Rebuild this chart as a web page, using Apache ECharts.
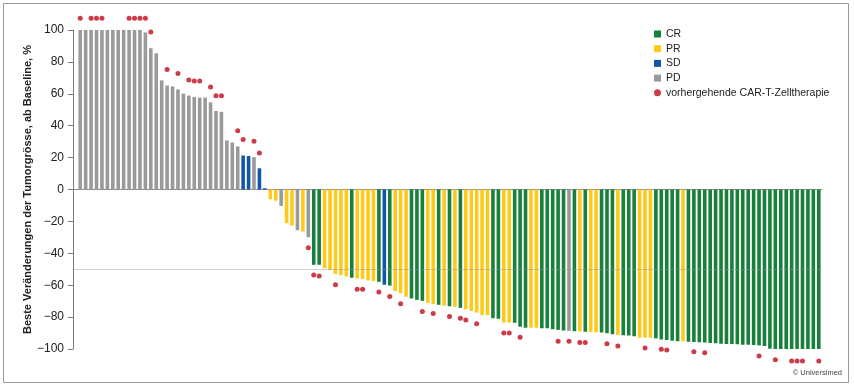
<!DOCTYPE html>
<html><head><meta charset="utf-8">
<script src="https://cdn.jsdelivr.net/npm/echarts@6/dist/echarts.min.js"></script>
<style>html,body{margin:0;padding:0;background:#fff}#c{width:854px;height:387px}</style>
</head><body><div id="c"></div>
<script>
// Best change in tumour size from baseline (%), one bar per patient (137)
const values = [
 100,100,100,100,100,100,100,100,100,100,100,100,
 98.5,88.6,85.4,68.4,65.2,64.6,62.7,60.1,58.9,58,57.6,57.6,54.6,49.2,48.7,30.8,29.5,27,
 21.3,21,20.3,13.3,0.8,
 -6.1,-7,-10.3,-21.1,-22.6,-25.5,-26.4,-29.9,
 -47.2,-47.2,-49.3,-50.5,-53,-53.7,-54.5,-55.3,-55.7,-56.2,-57,-57.4,-57.9,-59.7,-60.2,
 -63.7,-65,-67.3,-68.3,-69.2,-69.8,-71.1,-71.9,-72.3,-72.8,-73.2,-73.6,-74.2,-75.1,-76.1,
 -77.2,-78.8,-78.8,-80.7,-81,-83.4,-83.4,-83.6,-86,-86.6,-86.6,-86.6,-87,-87,-87.6,
 -88,-88.4,-88.6,-88.8,-89,-89.2,-89.3,-89.5,-89.7,-90.1,-90.8,-91.2,-91.4,-91.6,-92,
 -92.9,-92.9,-92.9,-93.3,-94,-94.3,-94.8,-95.2,-95.2,-95.4,-95.6,-95.8,-96,-96.2,-96.4,
 -96.7,-96.9,-96.9,-97.1,-97.3,-97.3,-97.5,-97.7,-98.1,-99.8,
 -100,-100,-100,-100,-100,-100,-100,-100,-100
];
// Best response per patient
const response = [
 'PD','PD','PD','PD','PD','PD','PD','PD','PD','PD','PD','PD','PD','PD','PD',
 'PD','PD','PD','PD','PD','PD','PD','PD','PD','PD','PD','PD','PD','PD','PD',
 'SD','SD','PD','SD','SD',
 'PR','PR','PD','PR','PR','PD','PR','PD',
 'CR','CR','PR','PR','PR','PR','PR','CR','PR','PR','PR','PR','CR','SD','CR',
 'PR','PR','PR','CR','CR','CR','PR','PR','CR','PR','CR','PR','CR',
 'PR','PR','PR','PR','PR','CR','CR','PR','PR','CR','CR','CR','PR','PR',
 'CR','CR','CR','CR','CR','PD','CR','PR','CR','PR','PR','CR','CR','CR','PR',
 'CR','CR','CR','PR','PR','PR','CR','CR','CR','CR','CR','PR',
 'CR','CR','CR','CR','CR','CR','CR','CR','CR','CR','CR','CR','CR','CR','CR',
 'CR','CR','CR','CR','CR','CR','CR','CR','CR','CR'
];
// Patients with prior CAR-T cell therapy: bar index and marker position (%)
const carTIndex = [0,2,3,4,9,10,11,12,13,16,18,20,21,22,24,25,26,29,30,32,33,
 42,43,44,47,51,52,55,57,59,63,65,68,70,71,73,78,79,81,88,90,92,93,97,99,104,107,108,
 113,115,125,128,131,132,133,136];
const carTValue = [107.4,107.4,107.4,107.4,107.4,107.4,107.4,107.4,98.7,75.2,72.8,68.7,68,68,
 64.2,58.7,58.7,36.8,31.4,30.3,22.9,
 -36.5,-53.6,-54.3,-59.7,-62.5,-62.5,-64.2,-67.1,-71.7,-76.5,-77.8,-79.7,-80.7,-81.8,-84.1,
 -89.9,-89.9,-92.6,-95.2,-95.2,-96,-96,-96.7,-98.1,-99.4,-100.2,-100.6,-101.7,-102.3,
 -104.4,-106.7,-107.5,-107.5,-107.5,-107.5];
const responseKeys = ['CR','PR','SD','PD'];
const carTLabel = 'vorhergehende CAR-T-Zelltherapie';
const yMin = -100, yMax = 100, yStep = 20;
const xMin = -1.33;
const refLine = -50;
const yName = 'Beste Veränderungen der Tumorgrösse, ab Baseline, %';

const colors = {CR:'#17803b', PR:'#fdca1c', SD:'#1457a6', PD:'#9a9a9a'};
const FONT = '"Liberation Sans",Arial,sans-serif';
const AXIS_COLOR = '#7a7a7a';

const chart = echarts.init(document.getElementById('c'), null, {renderer:'canvas'});

const barSeries = responseKeys.map((key, si) => ({
  name: key, type: 'bar', barWidth: 3.6, barGap: '-100%',
  itemStyle: {color: colors[key]},
  data: values.map((v,i)=> response[i]===key ? [i, v] : [i, '-']),
  markLine: si===0 ? {
    silent: true, symbol: 'none', animation: false,
    label: {show:false},
    lineStyle: {color:'rgba(150,150,150,0.45)', type:'solid', width:1},
    data: [{yAxis: refLine}]
  } : undefined
}));

chart.setOption({
  backgroundColor: '#fff',
  animation: false,
  grid: {left: 73, right: 32.5, top: 30, bottom: 38, containLabel: false},
  legend: {
    orient: 'vertical', left: 654, top: 28, padding: 0,
    itemWidth: 7, itemHeight: 7, itemGap: 2.7,
    icon: 'rect',
    textStyle: {fontSize: 10.5, lineHeight: 12, fontFamily: FONT, color: '#222'},
    data: ['CR','PR','SD','PD',{name: carTLabel, icon: 'circle'}]
  },
  xAxis: {
    type: 'value', min: xMin, max: values.length - 0.5,
    axisLine: {show: true, onZero: true, lineStyle: {color: '#8a8a8a', width: 1}},
    axisTick: {show: false}, axisLabel: {show: false}, splitLine: {show: false}
  },
  yAxis: {
    type: 'value', position: 'left', min: yMin, max: yMax, interval: yStep,
    name: yName, nameLocation: 'middle', nameGap: 40, nameMoveOverlap: false,
    nameTextStyle: {fontSize: 11, fontWeight: 'bold', fontFamily: FONT, color: '#222'},
    axisLine: {show: true, onZero: false, lineStyle: {color: AXIS_COLOR, width: 1}},
    axisTick: {show: true, length: 5, lineStyle: {color: AXIS_COLOR, width: 1}},
    axisLabel: {fontSize: 12, fontFamily: FONT, color: '#222', margin: 9,
      formatter: v => String(v).replace('-', '\u2212')},
    splitLine: {show: false}
  },
  series: barSeries.concat([{
    name: carTLabel, type: 'scatter', symbol: 'circle', symbolSize: 5, clip: false,
    itemStyle: {color: '#c00a1a'},
    data: carTIndex.map((k,j)=>[k, carTValue[j]]),
    z: 5
  }]),
  graphic: [
    {type:'rect', shape:{x:3.5, y:3.5, width:845, height:379}, style:{fill:'none', stroke:'#9a9a9a', lineWidth:1}, silent:true},
    {type:'text', right: 12, top: 369, style:{text:'© Universimed', fontSize: 7.5, fontFamily: FONT, fill:'#444'}}
  ]
});
</script></body></html>
